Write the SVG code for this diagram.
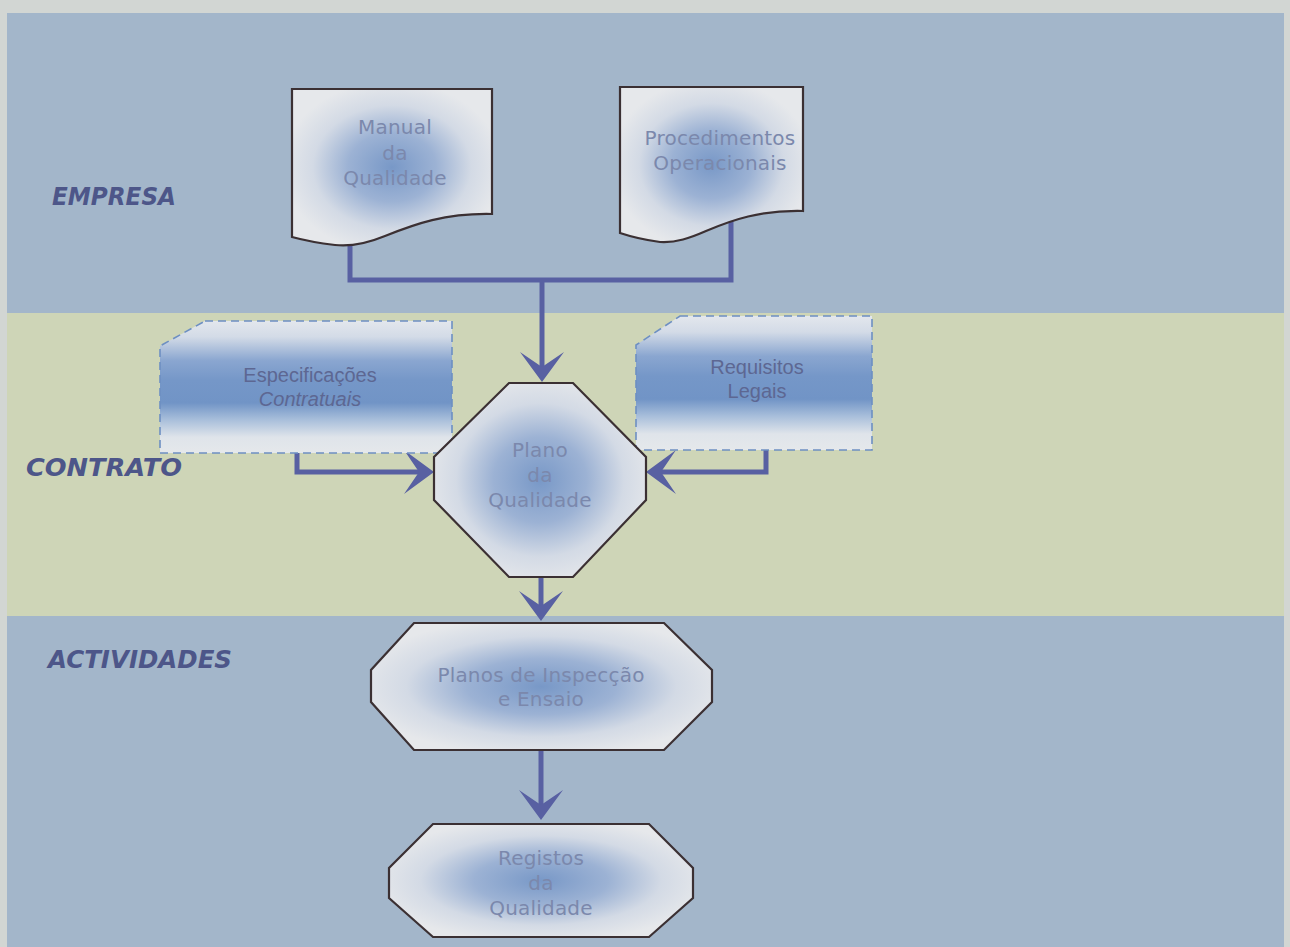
<svg xmlns="http://www.w3.org/2000/svg" width="1290" height="947" viewBox="0 0 1290 947">
<style>
.band-blue{fill:#a3b6ca}
.band-yellow{fill:#ced5b7}
.node{stroke:#3b3033;stroke-width:2.2;stroke-linejoin:miter}
.dash{stroke:#6d8fc2;stroke-width:1.6;stroke-dasharray:8 5}
.ntext{font-family:"DejaVu Sans",sans-serif;font-size:20px;fill:#7b88ac;letter-spacing:0.2px;text-anchor:middle}
.atext{font-family:"Liberation Sans",Arial,sans-serif;font-size:20px;fill:#5d6792;text-anchor:middle}
.lane{font-family:"DejaVu Sans",sans-serif;font-size:24px;font-weight:bold;font-style:italic;fill:#4d5689}
.conn{fill:none;stroke:#5860a2;stroke-width:5;stroke-linejoin:miter}
</style>
<defs>
<radialGradient id="gRad" cx="0.5" cy="0.5" r="0.55">
<stop offset="0" stop-color="#7898c7"/>
<stop offset="0.4" stop-color="#9cb2d4"/>
<stop offset="0.72" stop-color="#d3dae5"/>
<stop offset="1" stop-color="#e6e8eb"/>
</radialGradient>
<linearGradient id="gLin" x1="0" y1="0" x2="0" y2="1">
<stop offset="0" stop-color="#e3e7ed"/>
<stop offset="0.12" stop-color="#d3dbe7"/>
<stop offset="0.3" stop-color="#8aa6d0"/>
<stop offset="0.45" stop-color="#7597c8"/>
<stop offset="0.62" stop-color="#7194c6"/>
<stop offset="0.75" stop-color="#a9bfdb"/>
<stop offset="0.88" stop-color="#dfe4ea"/>
<stop offset="1" stop-color="#e5e8eb"/>
</linearGradient>
<marker id="arrow" viewBox="-17 -24 34 48" refX="0" refY="0" markerWidth="34" markerHeight="48" markerUnits="userSpaceOnUse" orient="auto">
<path d="M15,0 L-15,-22 L0,0 L-15,22 Z" fill="#5860a2"/>
</marker>
</defs>

<rect x="0" y="0" width="1290" height="947" fill="#d2d6d3"/>
<rect class="band-blue" x="7" y="13" width="1277" height="300"/>
<rect class="band-yellow" x="7" y="313" width="1277" height="303"/>
<rect class="band-blue" x="7" y="616" width="1277" height="331"/>

<g id="lanes">
<text class="lane" x="52" y="205" textLength="124" lengthAdjust="spacingAndGlyphs">EMPRESA</text>
<text class="lane" x="26" y="476" textLength="156" lengthAdjust="spacingAndGlyphs">CONTRATO</text>
<text class="lane" x="48" y="668" textLength="184" lengthAdjust="spacingAndGlyphs">ACTIVIDADES</text>
</g>

<g id="connectors">
<path class="conn" d="M350,240 V280 H731 V215"/>
<path class="conn" d="M542,280 V367" marker-end="url(#arrow)"/>
<path class="conn" d="M297,450 V472 H419" marker-end="url(#arrow)"/>
<path class="conn" d="M766,448 V472 H661" marker-end="url(#arrow)"/>
<path class="conn" d="M541,575 V606" marker-end="url(#arrow)"/>
<path class="conn" d="M541,748 V805" marker-end="url(#arrow)"/>
</g>

<g id="manual">
<path class="node" fill="url(#gRad)" d="M292,89 H492 V214 C445,213 415,224 385,236 C368,243 352,247 335,245 C318,243 303,240 292,237 Z"/>
<text class="ntext" x="395" y="134">Manual</text>
<text class="ntext" x="395" y="160">da</text>
<text class="ntext" x="395" y="185">Qualidade</text>
</g>

<g id="procedimentos">
<path class="node" fill="url(#gRad)" d="M620,87 H803 V211 C760,210 732,220 706,231 C690,238 676,243 660,242 C645,240 632,237 620,233 Z"/>
<text class="ntext" x="720" y="145">Procedimentos</text>
<text class="ntext" x="720" y="170">Operacionais</text>
</g>

<g id="especificacoes">
<path class="dash" fill="url(#gLin)" d="M205,321 H452 V453 H160 V346 Z"/>
<text class="atext" x="310" y="382">Especificações</text>
<text class="atext" x="310" y="406" font-style="italic">Contratuais</text>
</g>

<g id="requisitos">
<path class="dash" fill="url(#gLin)" d="M680,316 H872 V450 H636 V345 Z"/>
<text class="atext" x="757" y="374">Requisitos</text>
<text class="atext" x="757" y="398">Legais</text>
</g>

<g id="plano">
<path class="node" fill="url(#gRad)" d="M509,383 H573 L646,457 V500 L573,577 H509 L434,500 V457 Z"/>
<text class="ntext" x="540" y="457">Plano</text>
<text class="ntext" x="540" y="482">da</text>
<text class="ntext" x="540" y="507">Qualidade</text>
</g>

<g id="planos">
<path class="node" fill="url(#gRad)" d="M414,623 H664 L712,670 V702 L664,750 H414 L371,702 V670 Z"/>
<text class="ntext" x="541" y="682">Planos de Inspecção</text>
<text class="ntext" x="541" y="706">e Ensaio</text>
</g>

<g id="registos">
<path class="node" fill="url(#gRad)" d="M433,824 H649 L693,868 V898 L649,937 H433 L389,898 V868 Z"/>
<text class="ntext" x="541" y="865">Registos</text>
<text class="ntext" x="541" y="890">da</text>
<text class="ntext" x="541" y="915">Qualidade</text>
</g>
</svg>
